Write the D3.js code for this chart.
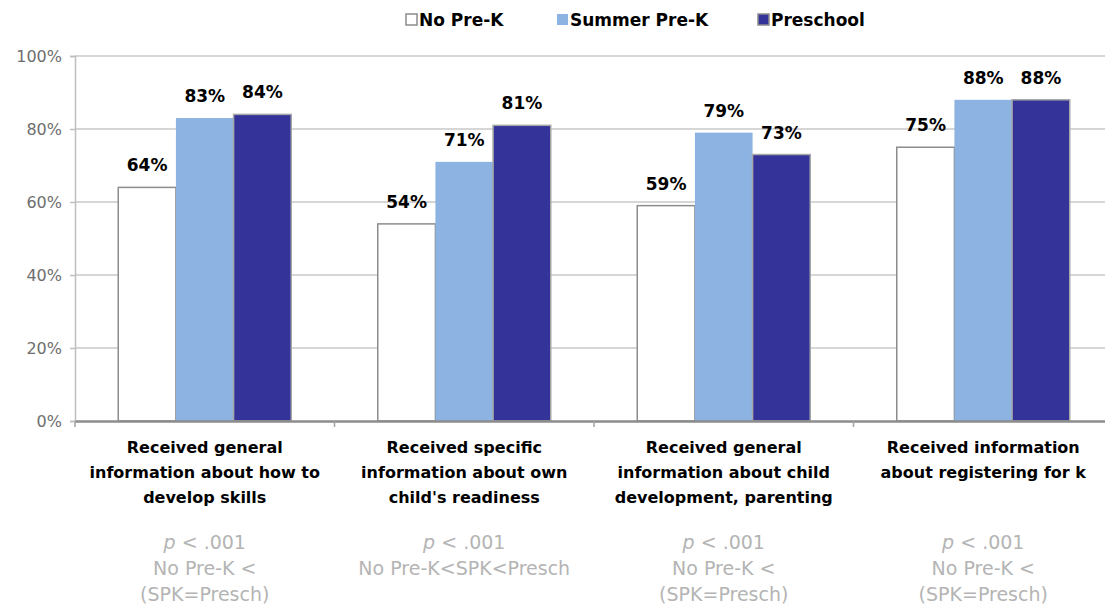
<!DOCTYPE html>
<html>
<head>
<meta charset="utf-8">
<script src="https://cdn.jsdelivr.net/npm/d3@7"></script>
<style>
  body { margin: 0; background: #fff; }
  svg { display: block; font-family: 'DejaVu Sans', sans-serif; }
</style>
</head>
<body>
<svg id="chart"></svg>
<script>
// chart data
const categories = [
  ['Received general', 'information about how to', 'develop skills'],
  ['Received specific', 'information about own', "child's readiness"],
  ['Received general', 'information about child', 'development, parenting'],
  ['Received information', 'about registering for k'],
];
const seriesNames = ['No Pre-K', 'Summer Pre-K', 'Preschool'];
const noPreK = [64, 54, 59, 75];
const summerPreK = [83, 71, 79, 88];
const preschool = [84, 81, 73, 88];
const pValues = [
  ['< .001', 'No Pre-K <', '(SPK=Presch)'],
  ['< .001', 'No Pre-K<SPK<Presch'],
  ['< .001', 'No Pre-K <', '(SPK=Presch)'],
  ['< .001', 'No Pre-K <', '(SPK=Presch)'],
];
const yTicks = [0, 20, 40, 60, 80, 100];

// settings
const config = {
  width: 1105,
  height: 604,
  plot: { left: 75, right: 1113, top: 56, bottom: 421 },
  fills: ['#ffffff', '#8db3e2', '#333399'],
  strokes: ['#8c8c8c', 'none', '#a6a6a6'],
};

const svg = d3.select('#chart')
  .attr('width', config.width)
  .attr('height', config.height);

const x = d3.scaleBand()
  .domain(d3.range(categories.length))
  .range([config.plot.left, config.plot.right]);

const xInner = d3.scaleBand()
  .domain(d3.range(seriesNames.length))
  .range([0, x.bandwidth()])
  .paddingOuter(0.75);

const y = d3.scaleLinear()
  .domain([0, 100])
  .range([config.plot.bottom, config.plot.top]);

// gridlines
svg.append('g')
  .selectAll('line')
  .data(yTicks.filter(d => d > 0))
  .join('line')
  .attr('x1', config.plot.left)
  .attr('x2', config.plot.right)
  .attr('y1', d => y(d))
  .attr('y2', d => y(d))
  .attr('stroke', '#c8c8c8')
  .attr('stroke-width', 1.5);

// y axis
const yAxis = d3.axisLeft(y)
  .tickValues(yTicks)
  .tickSize(5)
  .tickPadding(8)
  .tickFormat(d => d + '%');

svg.append('g')
  .attr('transform', `translate(${config.plot.left},0)`)
  .call(yAxis)
  .call(g => g.select('.domain').attr('stroke', '#bfbfbf').attr('stroke-width', 1.5))
  .call(g => g.selectAll('.tick line').attr('stroke', '#bfbfbf').attr('stroke-width', 1.5))
  .call(g => g.selectAll('.tick text')
    .attr('fill', '#6e6e6e')
    .attr('font-size', 16)
    .attr('font-family', 'DejaVu Sans, sans-serif'));

// bars
const seriesData = [noPreK, summerPreK, preschool];
const groups = svg.append('g')
  .selectAll('g')
  .data(categories)
  .join('g')
  .attr('transform', (d, i) => `translate(${x(i)},0)`);

groups.selectAll('rect')
  .data((d, i) => seriesData.map((s, j) => ({ series: j, value: s[i] })))
  .join('rect')
  .attr('x', d => xInner(d.series))
  .attr('width', xInner.bandwidth())
  .attr('y', d => y(d.value))
  .attr('height', d => y(0) - y(d.value))
  .attr('fill', d => config.fills[d.series])
  .attr('stroke', d => config.strokes[d.series])
  .attr('stroke-width', 1.5);

groups.selectAll('text.value')
  .data((d, i) => seriesData.map((s, j) => ({ series: j, value: s[i] })))
  .join('text')
  .attr('class', 'value')
  .attr('x', d => xInner(d.series) + xInner.bandwidth() / 2)
  .attr('y', d => y(d.value) - 16)
  .attr('text-anchor', 'middle')
  .attr('font-size', 17)
  .attr('font-weight', 'bold')
  .attr('fill', '#000')
  .text(d => d.value + '%');

// x axis line with category ticks
const xAxis = d3.axisBottom(x)
  .tickValues([])
  .tickSizeOuter(0);

svg.append('g')
  .attr('transform', `translate(0,${config.plot.bottom})`)
  .call(xAxis)
  .call(g => g.select('.domain').attr('stroke', '#8c8c8c').attr('stroke-width', 2.5));

svg.append('g')
  .selectAll('line')
  .data(d3.range(categories.length + 1))
  .join('line')
  .attr('x1', i => config.plot.left + i * x.step())
  .attr('x2', i => config.plot.left + i * x.step())
  .attr('y1', config.plot.bottom)
  .attr('y2', config.plot.bottom + 6)
  .attr('stroke', '#a0a0a0')
  .attr('stroke-width', 1.5);

// category labels
groups.append('text')
  .attr('text-anchor', 'middle')
  .attr('font-size', 16)
  .attr('font-weight', 'bold')
  .attr('fill', '#000')
  .selectAll('tspan')
  .data(d => d)
  .join('tspan')
  .attr('x', x.bandwidth() / 2)
  .attr('y', (d, i) => 453 + i * 25)
  .text(d => d);

// significance notes
groups.append('text')
  .attr('text-anchor', 'middle')
  .attr('font-size', 19)
  .attr('fill', '#b4b4b4')
  .selectAll('tspan')
  .data((d, i) => pValues[i])
  .join('tspan')
  .attr('x', x.bandwidth() / 2)
  .attr('y', (d, i) => 549 + i * 26)
  .each(function (d, i) {
    const t = d3.select(this);
    if (i === 0) {
      t.append('tspan').attr('font-style', 'italic').text('p ');
      t.append('tspan').text(d);
    } else {
      t.text(d);
    }
  });

// legend
const legendX = [406, 557, 758];
const legend = svg.append('g')
  .selectAll('g')
  .data(seriesNames)
  .join('g')
  .attr('transform', (d, i) => `translate(${legendX[i]},14)`);

legend.append('rect')
  .attr('width', 11)
  .attr('height', 11)
  .attr('fill', (d, i) => config.fills[i])
  .attr('stroke', (d, i) => i === 1 ? 'none' : '#8c8c8c')
  .attr('stroke-width', 1.5);

legend.append('text')
  .attr('x', 13)
  .attr('y', 12)
  .attr('font-size', 17)
  .attr('font-weight', 'bold')
  .attr('fill', '#000')
  .text(d => d);
</script>
</body>
</html>
